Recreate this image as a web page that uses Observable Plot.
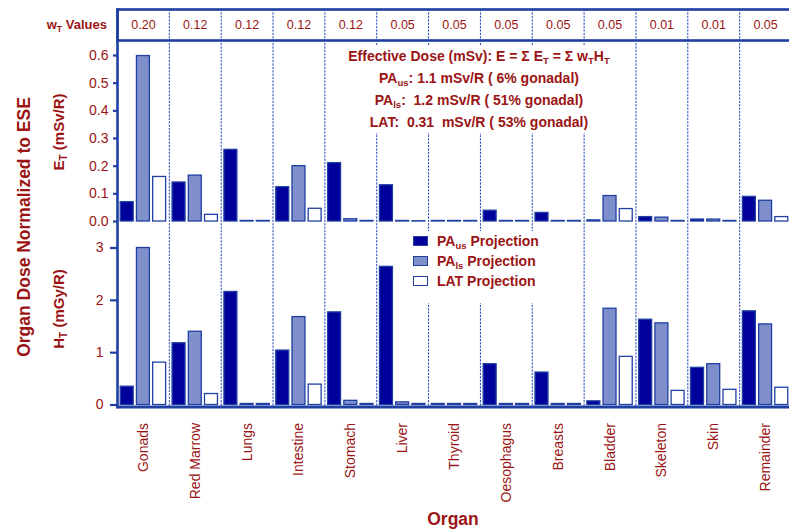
<!DOCTYPE html>
<html><head><meta charset="utf-8">
<script src="https://cdn.jsdelivr.net/npm/d3@7"></script>
<script src="https://cdn.jsdelivr.net/npm/@observablehq/plot@0.6"></script>
<style>
html,body{margin:0;padding:0;background:#fff;overflow:hidden;}
#chart{position:relative;width:789px;height:532px;overflow:hidden;font-family:"Liberation Sans",Arial,sans-serif;color:#9b1414;}
#chart svg{position:absolute;left:0;}
.rot{position:absolute;transform:translate(-50%,-50%) rotate(-90deg);white-space:nowrap;font-weight:bold;}
.lbl{position:absolute;white-space:nowrap;font-weight:bold;}
sub{font-size:68%;vertical-align:-0.35em;line-height:0;}
#note{position:absolute;left:330px;top:45px;width:298px;background:#fff;text-align:center;font-weight:bold;font-size:14px;line-height:22px;z-index:5;}
#note div{white-space:pre;}
#legend{position:absolute;left:405px;top:231px;width:160px;height:72px;background:#fff;font-weight:bold;font-size:14px;z-index:5;}
#legend .row{position:relative;height:20px;line-height:20px;white-space:nowrap;}
#legend .sw{position:absolute;left:8px;top:5px;width:13px;height:8px;border:1.3px solid #1f3fa3;}
#legend .tx{position:absolute;left:32px;top:0;}
</style></head><body><div id="chart"></div>
<script>
// ---- data ----
const organs = ["Gonads","Red Marrow","Lungs","Intestine","Stomach","Liver","Thyroid","Oesophagus","Breasts","Bladder","Skeleton","Skin","Remainder"];
const wT = [0.20,0.12,0.12,0.12,0.12,0.05,0.05,0.05,0.05,0.05,0.01,0.01,0.05];
const projections = ["PA_us","PA_ls","LAT"];
const projLabels = ["PA<sub>us</sub> Projection","PA<sub>ls</sub> Projection","LAT Projection"];
// E_T (mSv/R)
const E_us  = [0.070,0.141,0.259,0.124,0.211,0.131,0.002,0.039,0.031,0.004,0.016,0.007,0.089];
const E_ls  = [0.598,0.166,0.002,0.200,0.008,0.002,0.002,0.002,0.002,0.092,0.014,0.007,0.075];
const E_lat = [0.161,0.024,0.002,0.046,0.002,0.001,0.002,0.002,0.002,0.045,0.002,0.002,0.016];
// H_T (mGy/R)
const H_us  = [0.35,1.18,2.16,1.04,1.77,2.64,0.02,0.78,0.62,0.07,1.63,0.71,1.79];
const H_ls  = [3.00,1.40,0.02,1.68,0.08,0.05,0.02,0.02,0.02,1.84,1.56,0.78,1.54];
const H_lat = [0.81,0.21,0.02,0.39,0.02,0.02,0.02,0.02,0.02,0.92,0.27,0.29,0.33];
const effDoseLabels = ["PA<sub>us</sub>: ","PA<sub>ls</sub>:  ","LAT:  "];
const effDose = ["1.1","1.2","0.31 "];
const gonadalPct = [" 6"," 51"," 53"];
const eTicks = [0,0.1,0.2,0.3,0.4,0.5,0.6];
const hTicks = [0,1,2,3];

// ---- styles ----
const RED = "#9b1414", BLUE = "#1f3fa3", DOT = "#2246b8";
const FILLS = ["#00009b","#7f8fcb","#ffffff"];
const FONT = "Liberation Sans, Arial, sans-serif";
const chart = document.getElementById("chart");
const W = 791, ML = 117;

const organRows = organs.map((o,i)=>({organ:o, w:wT[i]}));
const eRows = organs.flatMap((o,i)=>[
  {organ:o, proj:projections[0], value:E_us[i]},
  {organ:o, proj:projections[1], value:E_ls[i]},
  {organ:o, proj:projections[2], value:E_lat[i]}]);
const hRows = organs.flatMap((o,i)=>[
  {organ:o, proj:projections[0], value:H_us[i]},
  {organ:o, proj:projections[1], value:H_ls[i]},
  {organ:o, proj:projections[2], value:H_lat[i]}]);

function place(svg, top, z){ svg.style.top = top+"px"; svg.style.zIndex = z; chart.appendChild(svg); }
const baseStyle = {background:"transparent", fontFamily:FONT, maxWidth:"none", overflow:"visible"};
const FX = {domain:organs, padding:0, round:false};

// dotted column separators (whole height)
place(Plot.plot({
  width:W, height:398, marginLeft:ML, marginRight:0, marginTop:0, marginBottom:0,
  style:baseStyle,
  fx:{...FX, axis:null},
  marks:[
    Plot.frame({anchor:"left", stroke:DOT, strokeWidth:1, strokeDasharray:"1.2,2.2"}),
    Plot.dot(organRows, {fx:"organ", r:0})
  ]
}), 9, 0);

// top panel: E_T
place(Plot.plot({
  width:W, height:188, marginLeft:ML, marginRight:0, marginTop:15, marginBottom:7,
  style:{...baseStyle, fontSize:"14px"},
  fx:{...FX, axis:null},
  x:{domain:projections, padding:0.2, round:false, axis:null},
  y:{domain:[0,0.6]},
  color:{domain:projections, range:FILLS},
  marks:[
    Plot.axisY({ticks:eTicks, tickFormat:".1f", tickSize:4, tickPadding:5, stroke:BLUE, strokeWidth:2.2, fill:RED, fontSize:14, label:null}),
    Plot.barY(eRows, {fx:"organ", x:"proj", y:"value", fill:"proj", stroke:BLUE, strokeWidth:1.3})
  ]
}), 40, 1);

// bottom panel: H_T
place(Plot.plot({
  width:W, height:277, marginLeft:ML, marginRight:0, marginTop:19.5, marginBottom:100.5,
  style:{...baseStyle, fontSize:"14px"},
  fx:FX,
  x:{domain:projections, padding:0.2, round:false, axis:null},
  y:{domain:[0,3]},
  color:{domain:projections, range:FILLS},
  marks:[
    Plot.axisY({ticks:hTicks, tickFormat:"d", tickSize:7, tickPadding:7, stroke:BLUE, strokeWidth:2.2, fill:RED, fontSize:14, label:null}),
    Plot.axisFx({anchor:"bottom", tickRotate:-90, tickSize:0, tickPadding:18, fill:RED, fontSize:14, label:null}),
    Plot.barY(hRows, {fx:"organ", x:"proj", y:"value", fill:"proj", stroke:BLUE, strokeWidth:1.3})
  ]
}), 228, 1);

// header row with w_T values
place(Plot.plot({
  width:W, height:41, marginLeft:ML, marginRight:0, marginTop:9, marginBottom:1,
  style:baseStyle,
  x:{type:"band", domain:organs, padding:0, round:false, axis:null},
  marks:[
    Plot.text(organRows, {x:"organ", text:d=>d3.format(".2f")(d.w), fill:RED, fontSize:12.5, frameAnchor:"middle"}),
    Plot.frame({stroke:BLUE, strokeWidth:2.6})
  ]
}), 0, 6);

// main axis lines (left and bottom)
place(Plot.plot({
  width:W, height:407, marginLeft:ML, marginRight:0, marginTop:9, marginBottom:0.5,
  style:baseStyle,
  marks:[
    Plot.frame({anchor:"left", stroke:BLUE, strokeWidth:2.6}),
    Plot.frame({anchor:"bottom", stroke:BLUE, strokeWidth:3})
  ]
}), 0, 6);

// text annotations
function addHTML(html){ const d=document.createElement("div"); d.innerHTML=html; const el=d.firstElementChild; chart.appendChild(el); return el; }
addHTML(`<div class="lbl" style="right:${789-107}px;top:17px;font-size:13px;line-height:16px;z-index:7">w<sub>T</sub> Values</div>`);
addHTML(`<div class="rot" style="left:24px;top:227px;font-size:17.5px">Organ Dose Normalized to ESE</div>`);
addHTML(`<div class="rot" style="left:58px;top:132px;font-size:15px">E<sub>T</sub> (mSv/R)</div>`);
addHTML(`<div class="rot" style="left:58px;top:309px;font-size:15px">H<sub>T</sub> (mGy/R)</div>`);
addHTML(`<div class="lbl" style="left:453px;top:519px;transform:translate(-50%,-50%);font-size:17.5px">Organ</div>`);

const note = addHTML(`<div id="note"></div>`);
note.innerHTML = `<div>Effective Dose (mSv): E = Σ E<sub>T</sub> = Σ w<sub>T</sub>H<sub>T</sub></div>` +
  effDoseLabels.map((l,i)=>`<div>${l}${effDose[i]} mSv/R (${gonadalPct[i]}% gonadal)</div>`).join("");

const legend = addHTML(`<div id="legend"></div>`);
legend.innerHTML = projections.map((p,i)=>`<div class="row"><span class="sw" style="background:${FILLS[i]}"></span><span class="tx">${projLabels[i]}</span></div>`).join("");
</script></body></html>
